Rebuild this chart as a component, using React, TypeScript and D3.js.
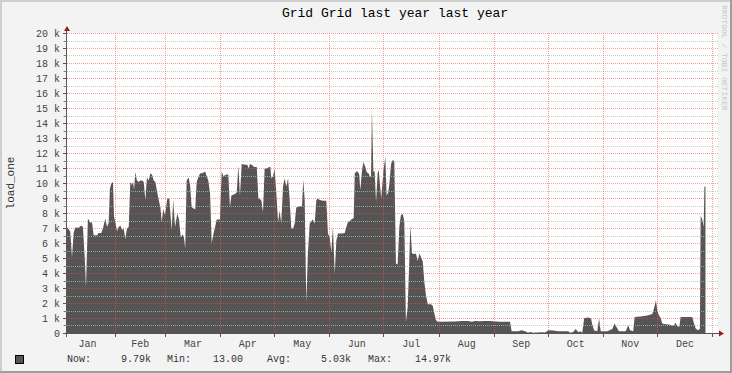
import { useEffect, useRef } from "react";
import * as d3 from "d3";

// load_one samples: day offset from the first day shown, value in thousands
const dayOffsets = [
  0, 1.8, 2.8, 3.7, 4.6, 6.5, 8.0, 8.9, 9.9, 10.6, 11.7, 13.0, 14.0, 14.9, 16.8, 17.7, 19.2, 20.3, 21.4, 22.4,
  23.3, 24.0, 24.8, 25.7, 26.3, 27.0, 28.0, 28.9, 29.8, 30.8, 31.7, 32.6, 33.5, 34.5, 35.4, 36.3, 36.9, 37.5,
  38.2, 39.1, 40.1, 41.0, 41.9, 42.9, 43.8, 44.7, 45.7, 46.6, 47.5, 48.5, 49.4, 50.3, 51.3, 52.2, 53.0, 53.8,
  54.8, 56.1, 57.2, 58.5, 59.4, 60.4, 61.7, 62.6, 63.6, 64.7, 65.4, 66.1, 66.9, 68.0, 68.8, 69.7, 70.6, 71.7,
  72.5, 73.4, 74.4, 75.9, 77.2, 78.1, 79.0, 80.0, 80.9, 81.8, 82.8, 83.7, 85.5, 86.5, 87.4, 89.3, 90.2, 91.1,
  91.9, 93.9, 94.9, 95.8, 96.7, 97.7, 99.5, 100.8, 101.6, 102.3, 103.3, 104.6, 106.1, 107.0, 108.6, 109.6,
  110.5, 111.8, 113.0, 113.7, 114.2, 115.2, 116.1, 117.0, 118.0, 118.9, 119.8, 120.8, 121.7, 122.6, 123.6,
  124.5, 125.4, 126.4, 127.3, 128.2, 130.1, 131.4, 132.1, 132.9, 133.8, 134.7, 135.7, 136.6, 137.5, 138.5,
  139.4, 140.3, 141.3, 143.1, 145.0, 145.9, 146.9, 147.8, 148.7, 149.7, 150.6, 151.5, 153.4, 155.3, 156.2,
  157.1, 158.1, 159.0, 160.3, 160.9, 161.8, 162.5, 163.4, 164.0, 164.9, 165.7, 166.8, 167.6, 168.7, 169.4,
  170.0, 170.5, 171.3, 172.0, 172.8, 173.7, 174.3, 175.0, 175.7, 176.9, 178.0, 178.7, 179.6, 180.2, 181.2,
  182.1, 183.0, 183.9, 184.9, 185.8, 186.7, 187.7, 188.6, 189.5, 190.5, 191.4, 192.0, 192.9, 194.2, 195.1,
  196.1, 197.0, 197.9, 198.9, 199.8, 200.7, 201.7, 203.5, 204.5, 205.4, 206.3, 207.3, 208.6, 216.9, 220.9,
  224.2, 226.4, 228.1, 230.9, 233.7, 236.5, 239.3, 242.1, 247.7, 248.6, 252.3, 254.2, 256.1, 257.9, 258.9,
  260.7, 265.4, 267.3, 269.1, 271.9, 274.7, 280.3, 281.2, 283.1, 284.4, 285.9, 287.0, 288.1, 289.2, 291.5,
  293.0, 293.7, 294.8, 296.5, 297.5, 298.4, 302.1, 304.9, 306.2, 307.7, 308.6, 312.4, 313.8, 314.8, 316.6,
  317.4, 320.8, 324.5, 327.3, 328.2, 329.3, 330.1, 331.0, 331.9, 332.8, 334.8, 336.6, 338.4, 339.4, 340.3,
  341.2, 342.4, 343.1, 349.6, 350.6, 351.5, 352.8, 353.9, 354.3, 355.4, 356.0, 356.4, 357.0,
];

const loadK = [
  7.1, 6.8, 5.1, 6.7, 7.07, 7.05, 7.2, 7.1, 5.1, 3.1, 7.67, 7.4, 7.4, 6.55, 6.55, 6.7, 6.7, 7.1, 7.67, 7.1,
  7.4, 9.67, 10.0, 10.1, 7.8, 7.44, 6.84, 7.1, 7.2, 6.9, 7.0, 6.29, 7.0, 7.1, 10.1, 9.9, 10.1, 9.6,
  10.77, 10.2, 10.1, 10.2, 10.2, 10.1, 8.9, 10.4, 10.2, 10.67, 10.6, 10.2, 10.1, 9.5, 8.9, 8.44, 7.44, 8.3,
  7.9, 9.0, 9.0, 6.9, 8.9, 7.1, 8.0, 7.6, 6.44, 6.6, 6.4, 5.67, 10.2, 10.4, 9.9, 8.44, 8.35, 8.27,
  10.1, 10.4, 10.67, 10.7, 10.8, 10.5, 10.2, 9.33, 6.04, 6.6, 7.1, 7.6, 7.6, 10.8, 10.5, 10.6, 10.6, 8.44,
  9.2, 9.3, 9.4, 11.2, 9.2, 11.3, 11.25, 11.25, 11.0, 11.3, 11.25, 11.1, 11.1, 9.0, 8.9, 8.1,
  11.0, 11.0, 11.1, 11.1, 10.33, 10.5, 10.98, 9.44, 7.44, 8.2, 7.33, 9.82, 10.33, 9.8, 10.33,
  8.9, 7.0, 7.0, 7.33, 8.4, 8.49, 8.49, 10.27, 8.9, 2.1, 5.33, 7.33, 7.5, 7.6, 7.33,
  8.89, 9.0, 8.9, 8.85, 8.85, 6.67, 6.4, 5.44, 7.1, 4.0, 6.2, 6.67, 6.67, 6.7, 7.1,
  7.44, 7.5, 7.6, 7.7, 10.67, 10.8, 10.8, 10.6, 9.56, 10.8, 11.44, 11.1, 10.75, 10.67, 10.45,
  10.5, 14.97, 10.8, 10.8, 8.78, 10.7, 10.9, 9.9, 9.0, 10.8, 11.78, 9.2, 9.4, 9.9, 11.3,
  11.56, 11.5, 4.67, 4.6, 7.1, 7.89, 7.96, 7.5, 0.78, 1.78, 4.9, 7.2, 5.33, 5.3, 5.33,
  4.84, 5.33, 5.1, 4.8, 3.44, 2.56, 1.95, 1.95, 1.85, 1.33, 0.89, 0.78, 0.78, 0.8, 0.84,
  0.84, 0.78, 0.84, 0.82, 0.84, 0.84, 0.8, 0.78, 0.78, 0.15, 0.15, 0.22, 0.15, 0.05, 0.1,
  0.05, 0.08, 0.06, 0.22, 0.2, 0.15, 0.15, 0.05, 0.1, 0.3, 0.08, 0.15, 0.05, 1.04, 1.07,
  1.0, 0.6, 0.2, 0.15, 1.0, 0.15, 0.15, 0.3, 0.67, 0.33, 0.15, 0.15, 0.55, 0.22, 0.15,
  1.1, 1.13, 1.2, 1.3, 1.67, 2.22, 1.5, 1.2, 1.05, 0.67, 0.62, 0.6, 0.53, 0.53, 0.73,
  0.48, 0.45, 1.1, 1.1, 0.67, 0.33, 0.22, 0.3, 7.89, 7.5, 7.1, 9.79, 9.79,
];

const yTicksK = d3.range(0, 21, 1);
const yMinorK = d3.range(0.5, 20, 1);
const legendLabels = ["Now:", "Min:", "Avg:", "Max:"];
const legendValues = ["9.79k", "13.00", "5.03k", "14.97k"];

const W = 732;
const H = 373;
const MONO = "'Liberation Mono', 'DejaVu Sans Mono', monospace";

export default function App() {
  const svgRef = useRef<SVGSVGElement>(null);

  useEffect(() => {
    if (!svgRef.current) return;
    const svg = d3.select(svgRef.current);
    svg.selectAll("*").remove();

    const start = Date.UTC(2013, 0, 5);
    const end = Date.UTC(2014, 0, 4);
    const x = d3.scaleUtc().domain([start, end]).range([67, 718]);
    const y = d3.scaleLinear().domain([0, 20]).range([333.5, 33.5]);

    const data = dayOffsets.map((d, i) => ({
      t: new Date(start + d * 86400000),
      v: loadK[i],
    }));

    // frame + canvas
    svg.append("rect").attr("width", W).attr("height", H).attr("fill", "#f3f3f3");
    svg.append("path").attr("d", `M1,${H} V1 H${W}`).attr("stroke", "#cfcfcf").attr("stroke-width", 2).attr("fill", "none");
    svg.append("path").attr("d", `M0,${H - 1} H${W - 1} V0`).attr("stroke", "#9e9e9e").attr("stroke-width", 2).attr("fill", "none");
    svg.append("rect").attr("x", 67).attr("y", 33).attr("width", 651).attr("height", 300).attr("fill", "#fff");

    // area
    const area = d3
      .area<{ t: Date; v: number }>()
      .x((d) => x(d.t))
      .y0(y(0))
      .y1((d) => y(d.v));
    svg.append("path").datum(data).attr("d", area).attr("fill", "#555555");

    // grid drawn over the area, like rrdtool
    const grid = svg.append("g").attr("shape-rendering", "crispEdges").attr("stroke-dasharray", "1,1");
    yMinorK.forEach((v) => {
      grid.append("line")
        .attr("x1", 63).attr("x2", 718).attr("y1", Math.floor(y(v)) + 0.5).attr("y2", Math.floor(y(v)) + 0.5)
        .attr("stroke", "#b8b8b8").attr("stroke-opacity", 0.75);
    });
    yTicksK.slice(1).forEach((v) => {
      grid.append("line")
        .attr("x1", 63).attr("x2", 718).attr("y1", Math.floor(y(v)) + 0.5).attr("y2", Math.floor(y(v)) + 0.5)
        .attr("stroke", "#f05050").attr("stroke-opacity", 0.55);
    });
    const monthLines = d3.utcMonth.range(new Date(start), new Date(end));
    monthLines.forEach((m) => {
      const px = Math.floor(x(m)) + 0.5;
      grid.append("line")
        .attr("x1", px).attr("x2", px).attr("y1", 33).attr("y2", 336)
        .attr("stroke", "#f05050").attr("stroke-opacity", 0.55);
    });

    // axes
    const ax = svg.append("g").attr("shape-rendering", "crispEdges");
    ax.append("line").attr("x1", 66.5).attr("x2", 66.5).attr("y1", 30).attr("y2", 334).attr("stroke", "#555");
    ax.append("line").attr("x1", 63).attr("x2", 720).attr("y1", 333.5).attr("y2", 333.5).attr("stroke", "#555");
    yTicksK.forEach((v) => {
      ax.append("line").attr("x1", 63).attr("x2", 67).attr("y1", Math.floor(y(v)) + 0.5).attr("y2", Math.floor(y(v)) + 0.5).attr("stroke", "#555");
    });
    yMinorK.forEach((v) => {
      ax.append("line").attr("x1", 64).attr("x2", 67).attr("y1", Math.floor(y(v)) + 0.5).attr("y2", Math.floor(y(v)) + 0.5).attr("stroke", "#777");
    });
    [new Date(start), ...monthLines].forEach((m, i) => {
      const px = i === 0 ? 66.5 : Math.floor(x(m)) + 0.5;
      ax.append("line").attr("x1", px).attr("x2", px).attr("y1", 333).attr("y2", 337).attr("stroke", "#555");
    });
    svg.append("path").attr("d", "M64,31 L67,26 L70,31 Z").attr("fill", "#9a1c1c");
    svg.append("path").attr("d", "M719,330.5 L724,333.5 L719,336.5 Z").attr("fill", "#9a1c1c");

    // y labels
    svg.append("g").selectAll("text").data(yTicksK).join("text")
      .attr("x", 60).attr("y", (d) => y(d) + 3.5)
      .attr("text-anchor", "end")
      .style("font-family", MONO).style("font-size", "10px").attr("fill", "#444")
      .text((d) => (d === 0 ? "0" : `${d} k`));

    // month labels centred in each month
    const months = d3.utcMonth.range(new Date(Date.UTC(2013, 0, 1)), new Date(Date.UTC(2014, 0, 1)));
    svg.append("g").selectAll("text").data(months).join("text")
      .attr("x", (m) => (x(m) + x(d3.utcMonth.offset(m, 1))) / 2)
      .attr("y", 347)
      .attr("text-anchor", "middle")
      .style("font-family", MONO).style("font-size", "10px").attr("fill", "#444")
      .text((m) => d3.utcFormat("%b")(m));

    // title
    svg.append("text").attr("x", 395).attr("y", 17).attr("text-anchor", "middle")
      .style("font-family", MONO).style("font-size", "13px").attr("fill", "#000")
      .text("Grid Grid last year last year");

    // vertical axis title
    svg.append("text").attr("transform", "translate(14,183) rotate(-90)").attr("text-anchor", "middle")
      .style("font-family", MONO).style("font-size", "11px").attr("fill", "#333")
      .text("load_one");

    // watermark
    svg.append("text").attr("transform", "translate(722,5) rotate(90)").attr("text-anchor", "start")
      .style("font-family", MONO).style("font-size", "8px").attr("fill", "#c8c8c8")
      .text("RRDTOOL / TOBI OETIKER");

    // legend
    svg.append("rect").attr("x", 15.5).attr("y", 355.5).attr("width", 8).attr("height", 8)
      .attr("fill", "#555").attr("stroke", "#000");
    const labelX = [67, 167, 267, 368];
    const valueX = [151, 243, 351, 451];
    legendLabels.forEach((l, i) => {
      svg.append("text").attr("x", labelX[i]).attr("y", 362)
        .style("font-family", MONO).style("font-size", "10px").attr("fill", "#333").text(l);
      svg.append("text").attr("x", valueX[i]).attr("y", 362).attr("text-anchor", "end")
        .style("font-family", MONO).style("font-size", "10px").attr("fill", "#333").text(legendValues[i]);
    });
  }, []);

  return (
    <svg
      ref={svgRef}
      width={W}
      height={H}
      style={{ position: "absolute", left: 0, top: 0, display: "block" }}
    />
  );
}
